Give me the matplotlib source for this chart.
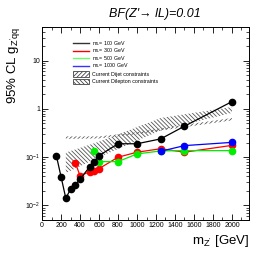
import matplotlib
matplotlib.use('Agg')
import matplotlib.pyplot as plt
from matplotlib.ticker import LogLocator, NullFormatter, MultipleLocator

# limits for each heavy-lepton mass
mass_100 = [150, 200, 250, 300, 350, 400, 500, 550, 600, 800, 1000, 1250, 1500, 2000]
g_100 = [0.108, 0.039, 0.014, 0.022, 0.027, 0.035, 0.063, 0.079, 0.108, 0.19, 0.19, 0.24, 0.44, 1.42]

mass_300 = [350, 400, 500, 550, 600, 800, 1000, 1250, 1500, 2000]
g_300 = [0.077, 0.041, 0.05, 0.053, 0.058, 0.1, 0.127, 0.15, 0.127, 0.176]

mass_500 = [550, 600, 800, 1000, 1250, 1500, 2000]
g_500 = [0.133, 0.081, 0.081, 0.117, 0.135, 0.137, 0.137]

mass_1000 = [1250, 1500, 2000]
g_1000 = [0.133, 0.174, 0.203]

# constraint bands
dilep_mass = [250, 600, 1250, 2000]
dilep_low = [0.047, 0.1, 0.36, 0.83]
dilep_high = [0.125, 0.21, 0.65, 1.1]

dijet_mass = [250, 600, 1000, 1500, 2000]
dijet_low = [0.24, 0.245, 0.3, 0.42, 0.58]
dijet_high = [0.27, 0.27, 0.33, 0.47, 0.65]

labels = ['$m_{L}$= 100 GeV', '$m_{L}$= 300 GeV', '$m_{L}$= 500 GeV', '$m_{L}$= 1000 GeV']
band_labels = ['Current Dijet constraints', 'Current Dilepton constraints']

plt.rcParams['font.family'] = ['Liberation Sans', 'DejaVu Sans']
plt.rcParams['mathtext.fontset'] = 'custom'
plt.rcParams['mathtext.rm'] = 'Liberation Sans'
plt.rcParams['mathtext.it'] = 'Liberation Sans:italic'
plt.rcParams['mathtext.default'] = 'regular'
plt.rcParams['hatch.linewidth'] = 0.6

fig = plt.figure(figsize=(2.77, 2.60), dpi=100)
ax = fig.add_axes([0.152, 0.154, 0.747, 0.742])

HATCH_JET = '////////'
HATCH_LEP = '\\\\\\\\\\\\\\\\'
ax.fill_between(dijet_mass, dijet_low, dijet_high, facecolor='none', edgecolor='#555555',
                hatch=HATCH_JET, linewidth=0)
ax.fill_between(dilep_mass, dilep_low, dilep_high, facecolor='none', edgecolor='#555555',
                hatch=HATCH_LEP, linewidth=0)

for m, g, c in [(mass_300, g_300, '#ff0000'),
                (mass_500, g_500, '#00ee00'),
                (mass_1000, g_1000, '#0000ff'),
                (mass_100, g_100, 'black')]:
    ax.plot(m, g, '-o', color=c, markerfacecolor=c, markeredgecolor=c, markersize=4.5, linewidth=0.9)

# hand-placed legend, ROOT style
leg_colors = ['#333333', '#ff0000', '#66ff66', '#3333ff']
rows = [0.916, 0.877, 0.838, 0.800, 0.756, 0.719]
x0, x1, xt = 0.148, 0.229, 0.242
for y, c, lab in zip(rows[:4], leg_colors, labels):
    ax.plot([x0, x1], [y, y], color=c, lw=1, transform=ax.transAxes)
    ax.text(xt, y, lab, fontsize=3.8, va='center', ha='left', transform=ax.transAxes)
for y, h, lab in zip(rows[4:], [HATCH_JET, HATCH_LEP], band_labels):
    ax.add_patch(plt.Rectangle((x0, y - 0.014), x1 - x0, 0.028, facecolor='white', edgecolor='#444444',
                               hatch=h, lw=0.6, transform=ax.transAxes))
    ax.text(xt, y, lab, fontsize=3.8, va='center', ha='left', transform=ax.transAxes)

ax.set_yscale('log')
ax.set_xlim(0, 2180)
ax.set_ylim(0.005, 50)
ax.xaxis.set_major_locator(MultipleLocator(200))
ax.xaxis.set_minor_locator(MultipleLocator(100))
ax.yaxis.set_minor_locator(LogLocator(base=10, subs=range(2, 10), numticks=20))
ax.yaxis.set_minor_formatter(NullFormatter())
ax.tick_params(which='both', direction='in', top=True, right=True, labelsize=5, pad=1.5)
ax.tick_params(which='major', length=4, width=0.6)
ax.tick_params(which='minor', length=2, width=0.5)
ax.set_yticks([0.01, 0.1, 1, 10])
ax.set_yticklabels(['$10^{-2}$', '$10^{-1}$', '1', '10'])
for s in ax.spines.values():
    s.set_linewidth(0.7)

ax.set_xlabel("$m_{Z'}$ [GeV]", fontsize=9.5, loc='right', labelpad=3)
ax.set_ylabel("95% CL $g_{Z'qq}$", fontsize=9.5, loc='top', labelpad=2)
fig.text(0.56, 0.946, "BF(Z'\u2192 lL)=0.01", fontsize=9, style='italic', ha='center', va='center',
         family=['Liberation Sans', 'DejaVu Sans'])

fig.savefig('out.png', dpi=100)
